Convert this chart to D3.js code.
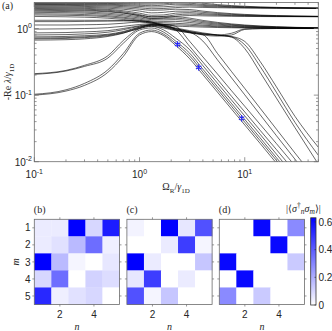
<!DOCTYPE html>
<html>
<head>
<meta charset="utf-8">
<script src="https://cdnjs.cloudflare.com/ajax/libs/d3/7.8.5/d3.min.js"></script>
<style>
  body { margin: 0; background: #fff; }
  svg { display: block; }
  .num { font-family: "Liberation Sans", Arial, sans-serif; font-size: 10px; fill: #262626; }
  .math { font-family: "Liberation Serif", "Times New Roman", serif; font-size: 10px; fill: #262626; }
</style>
</head>
<body>
<div id="chart"></div>
<script>
// Omega_R / gamma_1D sample points shared by every eigenvalue branch
const omega = [0.1, 0.2, 0.3, 0.5, 0.7, 1, 1.3, 1.7, 2.2, 3, 4, 5.5, 7.5, 10, 14, 20, 30, 50];

// branches that settle at 2
const linesTo2 = [
  [2.45, 2.45, 2.45, 2.44, 2.43, 2.42, 2.42, 2.45, 2.5, 2.53, 2.4, 2.29, 2.21, 2.16, 2.11, 2.08, 2.05, 2.03],
  [2.4, 2.4, 2.39, 2.38, 2.36, 2.33, 2.32, 2.35, 2.42, 2.4, 2.3, 2.22, 2.16, 2.12, 2.086, 2.06, 2.04, 2.024],
  [2.35, 2.34, 2.33, 2.31, 2.28, 2.24, 2.2, 2.25, 2.32, 2.3, 2.225, 2.164, 2.12, 2.09, 2.064, 2.045, 2.03, 2.018],
  [2.3, 2.29, 2.28, 2.25, 2.21, 2.15, 2.1, 2.12, 2.18, 2.2, 2.15, 2.109, 2.08, 2.06, 2.043, 2.03, 2.02, 2.012],
  [2.24, 2.23, 2.21, 2.18, 2.13, 2.05, 1.98, 2.0, 2.06, 2.1, 2.075, 2.055, 2.04, 2.03, 2.021, 2.015, 2.01, 2.006]
];

// branches that settle at 1.5
const linesTo15 = [
  [2.18, 2.17, 2.15, 2.1, 2.04, 1.95, 1.88, 1.9, 1.95, 1.93, 1.825, 1.736, 1.673, 1.63, 1.593, 1.565, 1.543, 1.526],
  [2.12, 2.1, 2.08, 2.02, 1.95, 1.83, 1.72, 1.75, 1.82, 1.83, 1.75, 1.682, 1.633, 1.6, 1.571, 1.55, 1.533, 1.52],
  [2.06, 2.04, 2.01, 1.94, 1.85, 1.7, 1.58, 1.6, 1.7, 1.733, 1.675, 1.627, 1.593, 1.57, 1.55, 1.535, 1.523, 1.514],
  [2.0, 1.98, 1.95, 1.88, 1.78, 1.62, 1.5, 1.52, 1.6, 1.65, 1.613, 1.582, 1.56, 1.545, 1.532, 1.522, 1.515, 1.509],
  [1.94, 1.92, 1.89, 1.82, 1.72, 1.55, 1.42, 1.45, 1.52, 1.567, 1.55, 1.536, 1.527, 1.52, 1.514, 1.51, 1.507, 1.504]
];

// branches that settle at 1 from above
const linesTo1 = [
  [1.88, 1.86, 1.84, 1.78, 1.7, 1.58, 1.5, 1.5, 1.5, 1.433, 1.325, 1.236, 1.173, 1.13, 1.093, 1.065, 1.043, 1.026],
  [1.82, 1.8, 1.77, 1.7, 1.62, 1.5, 1.42, 1.42, 1.43, 1.367, 1.275, 1.2, 1.147, 1.11, 1.079, 1.055, 1.037, 1.022],
  [1.75, 1.73, 1.7, 1.63, 1.55, 1.44, 1.36, 1.35, 1.36, 1.3, 1.225, 1.164, 1.12, 1.09, 1.064, 1.045, 1.03, 1.018],
  [1.67, 1.65, 1.62, 1.56, 1.48, 1.38, 1.3, 1.28, 1.28, 1.233, 1.175, 1.127, 1.093, 1.07, 1.05, 1.035, 1.023, 1.014],
  [1.6, 1.58, 1.56, 1.5, 1.43, 1.33, 1.25, 1.22, 1.2, 1.167, 1.125, 1.091, 1.067, 1.05, 1.036, 1.025, 1.017, 1.01],
  [1.52, 1.5, 1.48, 1.43, 1.37, 1.28, 1.2, 1.16, 1.14, 1.117, 1.088, 1.064, 1.047, 1.035, 1.025, 1.018, 1.012, 1.007],
  [1.33, 1.33, 1.33, 1.33, 1.32, 1.3, 1.25, 1.15, 1.09, 1.067, 1.05, 1.036, 1.027, 1.02, 1.014, 1.01, 1.007, 1.004]
];

// branches that dip below 1 before rejoining it
const dipLines = [
  [1.27, 1.27, 1.28, 1.29, 1.3, 1.3, 1.25, 1.1, 0.98, 0.88, 0.8, 0.77, 0.8, 0.97, 0.995, 1.0, 1.0, 1.0],
  [1.13, 1.13, 1.14, 1.16, 1.2, 1.25, 1.22, 1.08, 0.95, 0.86, 0.82, 0.8, 0.85, 0.985, 0.998, 1.0, 1.0, 1.0]
];

// slow modes, grouped by where they leave the upper band
const fallLate = [
  [0.98, 0.99, 1.0, 1.03, 1.08, 1.15, 1.18, 1.12, 1.02, 0.93, 0.86, 0.8, 0.74, 0.5, 0.22, 0.09, 0.0325, 0.0092],
  [0.86, 0.87, 0.89, 0.93, 1.0, 1.1, 1.15, 1.1, 1.0, 0.9, 0.84, 0.8, 0.76, 0.64, 0.32, 0.133, 0.048, 0.0165],
  [0.8, 0.81, 0.83, 0.88, 0.96, 1.08, 1.13, 1.08, 0.99, 0.9, 0.83, 0.79, 0.75, 0.57, 0.27, 0.11, 0.039, 0.0125]
];
const fallMid = [
  [0.75, 0.76, 0.78, 0.82, 0.9, 1.05, 1.12, 1.05, 0.95, 0.88, 0.649, 0.339, 0.181, 0.101, 0.0508, 0.0246, 0.0109, 0.0039],
  [0.7, 0.71, 0.73, 0.78, 0.86, 1.0, 1.08, 1.02, 0.93, 0.87, 0.81, 0.423, 0.225, 0.126, 0.0635, 0.0308, 0.0135, 0.0049]
];
const fallEarly = [
  [0.67, 0.68, 0.7, 0.76, 0.85, 1.02, 1.12, 1.12, 0.96, 0.538, 0.313, 0.172, 0.0957, 0.0559, 0.0296, 0.0152, 0.0071, 0.0027],
  [0.72, 0.73, 0.75, 0.8, 0.88, 1.04, 1.15, 1.15, 1.08, 0.64, 0.375, 0.208, 0.116, 0.068, 0.0364, 0.0187, 0.0087, 0.0033]
];
const fallLow = [
  [0.1, 0.115, 0.14, 0.22, 0.38, 0.8, 0.9, 0.78, 0.56, 0.351, 0.203, 0.111, 0.0615, 0.0356, 0.0188, 0.0095, 0.0044, 0.0017],
  [0.103, 0.12, 0.15, 0.24, 0.42, 0.85, 0.95, 0.82, 0.6, 0.386, 0.223, 0.122, 0.0677, 0.0392, 0.0207, 0.0105, 0.0048, 0.0019],
  [0.205, 0.23, 0.27, 0.36, 0.6, 0.95, 1.02, 0.88, 0.65, 0.425, 0.245, 0.134, 0.0745, 0.0431, 0.0228, 0.0115, 0.0053, 0.0021],
  [0.21, 0.235, 0.28, 0.39, 0.66, 1.0, 1.08, 0.95, 0.72, 0.48, 0.277, 0.151, 0.084, 0.0487, 0.0258, 0.013, 0.006, 0.0024]
];

// marked points (blue asterisks)
const markOmega = [2.3, 3.65, 9.35];
const markRate = [0.577, 0.26, 0.045];

const xMajor = [0.1, 1, 10];
const xExp = ['-1', '0', '1'];
const yMajor = [0.01, 0.1, 1];
const yExp = ['-2', '-1', '0'];

// |<sigma_n^dagger sigma_m>| for the three marked points (rows m, columns n)
const corrB = [
  [0.05, 0.05, 0.63, 0.1, 0.56],
  [0.05, 0.075, 0.17, 0.36, 0.04],
  [0.63, 0.17, 0.025, 0, 0.06],
  [0.1, 0.36, 0, 0.11, 0.085],
  [0.53, 0.04, 0.075, 0.1, 0]
];
const corrC = [
  [0.03, 0, 0.63, 0.06, 0.43],
  [0, 0, 0.05, 0.48, 0.025],
  [0.63, 0.05, 0, 0, 0.14],
  [0.06, 0.48, 0, 0.05, 0],
  [0.43, 0.025, 0.14, 0, 0]
];
const corrD = [
  [0, 0, 0.61, 0, 0.29],
  [0, 0, 0, 0.61, 0],
  [0.61, 0, 0, 0, 0.13],
  [0, 0.61, 0, 0, 0],
  [0.29, 0, 0.13, 0, 0]
];
const panelTags = ['(b)', '(c)', '(d)'];
const siteIdx = [1, 2, 3, 4, 5];
const nTicks = [2, 4];
const colorTicks = [0, 0.2, 0.4, 0.6];

const axisGrey = '#6b6b6b';

const svg = d3.select('#chart').append('svg')
  .attr('width', 332)
  .attr('height', 331);

// write a string made of styled pieces into a text element
function richText(sel, parts) {
  parts.forEach(p => {
    const t = sel.append('tspan').text(p.t);
    if (p.it) t.attr('font-style', 'italic');
    if (p.size) t.attr('font-size', p.size);
    if (p.dy) t.attr('dy', p.dy);
  });
}

// ---------- panel (a) ----------
const box = { left: 34.3, right: 318.3, top: 2.5, bottom: 161.7 };

const x = d3.scaleLog().domain([0.1, 50]).range([box.left, box.right]);
const y = d3.scaleLog().domain([0.01, 2.46]).range([box.bottom, box.top]);

svg.append('clipPath').attr('id', 'plot-clip')
  .append('rect')
  .attr('x', box.left).attr('y', box.top)
  .attr('width', box.right - box.left).attr('height', box.bottom - box.top);

const plot = svg.append('g').attr('clip-path', 'url(#plot-clip)');

const line = d3.line()
  .x((d, i) => x(omega[i]))
  .y(d => y(d))
  .curve(d3.curveMonotoneX);

const allLines = [].concat(linesTo2, linesTo15, linesTo1, dipLines, fallLate, fallMid, fallEarly, fallLow);

plot.selectAll('.branch')
  .data(allLines)
  .join('path')
  .attr('class', 'branch')
  .attr('d', line)
  .attr('fill', 'none')
  .attr('stroke', '#000')
  .attr('stroke-width', 0.6);

const star = d3.symbol().type(d3.symbolAsterisk).size(28);
plot.selectAll('.mark')
  .data(markOmega)
  .join('path')
  .attr('class', 'mark')
  .attr('transform', (d, i) => `translate(${x(d)},${y(markRate[i])})`)
  .attr('d', star)
  .attr('fill', 'none')
  .attr('stroke', '#2020ff')
  .attr('stroke-width', 1.1);

// axis box and inward ticks on all sides
svg.append('rect')
  .attr('x', box.left).attr('y', box.top)
  .attr('width', box.right - box.left).attr('height', box.bottom - box.top)
  .attr('fill', 'none').attr('stroke', axisGrey).attr('stroke-width', 0.8);

const isMajor = d => Math.abs(Math.log10(d) - Math.round(Math.log10(d))) < 1e-6;
const ticks = svg.append('g').attr('stroke', axisGrey).attr('stroke-width', 0.7);

x.ticks().forEach(d => {
  const len = isMajor(d) ? 4.5 : 2.3;
  ticks.append('line').attr('x1', x(d)).attr('x2', x(d)).attr('y1', box.bottom).attr('y2', box.bottom - len);
  ticks.append('line').attr('x1', x(d)).attr('x2', x(d)).attr('y1', box.top).attr('y2', box.top + len);
});
y.ticks().forEach(d => {
  const len = isMajor(d) ? 4.5 : 2.3;
  ticks.append('line').attr('y1', y(d)).attr('y2', y(d)).attr('x1', box.left).attr('x2', box.left + len);
  ticks.append('line').attr('y1', y(d)).attr('y2', y(d)).attr('x1', box.right).attr('x2', box.right - len);
});

xMajor.forEach((d, i) => {
  const t = svg.append('text').attr('class', 'num')
    .attr('x', x(d)).attr('y', 178).attr('text-anchor', 'middle');
  richText(t, [{ t: '10' }, { t: xExp[i], size: 7, dy: -4.5 }]);
});
yMajor.forEach((d, i) => {
  const t = svg.append('text').attr('class', 'num')
    .attr('x', 32).attr('y', y(d) + 4).attr('text-anchor', 'end');
  richText(t, [{ t: '10' }, { t: yExp[i], size: 7, dy: -4.5 }]);
});

const xLab = svg.append('text').attr('class', 'math')
  .attr('x', 176).attr('y', 190).attr('text-anchor', 'middle');
richText(xLab, [
  { t: 'Ω' }, { t: 'R', size: 7, dy: 2.5 }, { t: '/', dy: -2.5 },
  { t: 'γ', it: true }, { t: '1D', size: 7, dy: 2.5 }
]);

const yLab = svg.append('text').attr('class', 'math')
  .attr('transform', 'translate(11,82) rotate(-90)')
  .attr('text-anchor', 'middle');
richText(yLab, [
  { t: '-Re ' }, { t: 'λ', it: true }, { t: '/' },
  { t: 'γ', it: true }, { t: '1D', size: 7, dy: 2.5 }
]);

svg.append('text').attr('class', 'math').attr('x', 2).attr('y', 9).text('(a)');

// ---------- panels (b)-(d) ----------
const heatTop = 219.3;
const heatSize = 85.2;
const heatLeft = [34.3, 126.9, 219.3];
const corrSets = [corrB, corrC, corrD];

const color = d3.scaleLinear().domain([0, 0.63]).range(['#ffffff', '#0000ff']);
const rowScale = d3.scaleBand().domain(siteIdx).range([heatTop, heatTop + heatSize]);

corrSets.forEach((mat, p) => {
  const x0 = heatLeft[p];
  const colScale = d3.scaleBand().domain(siteIdx).range([x0, x0 + heatSize]);
  const g = svg.append('g');

  const cells = [];
  mat.forEach((row, m) => row.forEach((v, n) => cells.push({ m: m + 1, n: n + 1, v: v })));

  g.selectAll('rect.cell')
    .data(cells)
    .join('rect')
    .attr('class', 'cell')
    .attr('x', d => colScale(d.n))
    .attr('y', d => rowScale(d.m))
    .attr('width', colScale.bandwidth() + 0.3)
    .attr('height', rowScale.bandwidth() + 0.3)
    .attr('fill', d => color(d.v));

  g.append('rect')
    .attr('x', x0).attr('y', heatTop)
    .attr('width', heatSize).attr('height', heatSize)
    .attr('fill', 'none').attr('stroke', axisGrey).attr('stroke-width', 0.8);

  const tk = g.append('g').attr('stroke', axisGrey).attr('stroke-width', 0.7);
  nTicks.forEach(n => {
    const cx = colScale(n) + colScale.bandwidth() / 2;
    tk.append('line').attr('x1', cx).attr('x2', cx).attr('y1', heatTop + heatSize).attr('y2', heatTop + heatSize + 2);
    tk.append('line').attr('x1', cx).attr('x2', cx).attr('y1', heatTop).attr('y2', heatTop - 2);
    g.append('text').attr('class', 'num')
      .attr('x', cx).attr('y', heatTop + heatSize + 13)
      .attr('text-anchor', 'middle').text(n);
  });
  siteIdx.forEach(m => {
    const cy = rowScale(m) + rowScale.bandwidth() / 2;
    tk.append('line').attr('y1', cy).attr('y2', cy).attr('x1', x0).attr('x2', x0 - 2);
    tk.append('line').attr('y1', cy).attr('y2', cy).attr('x1', x0 + heatSize).attr('x2', x0 + heatSize + 2);
    if (p === 0) {
      g.append('text').attr('class', 'num')
        .attr('x', 30.5).attr('y', cy + 3.6)
        .attr('text-anchor', 'end').text(m);
    }
  });

  g.append('text').attr('class', 'math')
    .attr('x', x0 + heatSize / 2).attr('y', 329.5)
    .attr('text-anchor', 'middle').attr('font-style', 'italic').text('n');
  g.append('text').attr('class', 'math')
    .attr('x', x0 - 0.5).attr('y', 213).text(panelTags[p]);
});

svg.append('text').attr('class', 'math')
  .attr('transform', `translate(19,${heatTop + heatSize / 2}) rotate(-90)`)
  .attr('text-anchor', 'middle').attr('font-style', 'italic').text('m');

// colorbar
const cb = { x: 310.7, w: 5.3, top: 217.8, bottom: 305 };
const cbScale = d3.scaleLinear().domain([0, 0.63]).range([cb.bottom, cb.top]);

const grad = svg.append('defs').append('linearGradient')
  .attr('id', 'cb-grad')
  .attr('x1', 0).attr('y1', 1).attr('x2', 0).attr('y2', 0);
grad.selectAll('stop')
  .data([0, 0.63])
  .join('stop')
  .attr('offset', (d, i) => i)
  .attr('stop-color', d => color(d));

svg.append('rect')
  .attr('x', cb.x).attr('y', cb.top)
  .attr('width', cb.w).attr('height', cb.bottom - cb.top)
  .attr('fill', 'url(#cb-grad)')
  .attr('stroke', '#333').attr('stroke-width', 0.8);

colorTicks.forEach(d => {
  svg.append('line')
    .attr('x1', cb.x + cb.w).attr('x2', cb.x + cb.w - 1.5)
    .attr('y1', cbScale(d)).attr('y2', cbScale(d))
    .attr('stroke', '#333').attr('stroke-width', 0.7);
  svg.append('text').attr('class', 'num')
    .attr('x', 318.5).attr('y', cbScale(d) + 3.6)
    .text(d === 0 ? '0' : d.toFixed(1));
});

const cbLab = svg.append('text').attr('class', 'math')
  .attr('x', 286).attr('y', 212).attr('font-size', 11);
richText(cbLab, [
  { t: '|⟨' }, { t: 'σ', it: true }, { t: '†', size: 7.5, dy: -4 },
  { t: 'n', it: true, size: 7.5, dy: 6 }, { t: 'σ', it: true, dy: -2 },
  { t: 'm', it: true, size: 7.5, dy: 2 }, { t: '⟩|', dy: -2 }
]);
</script>
</body>
</html>
